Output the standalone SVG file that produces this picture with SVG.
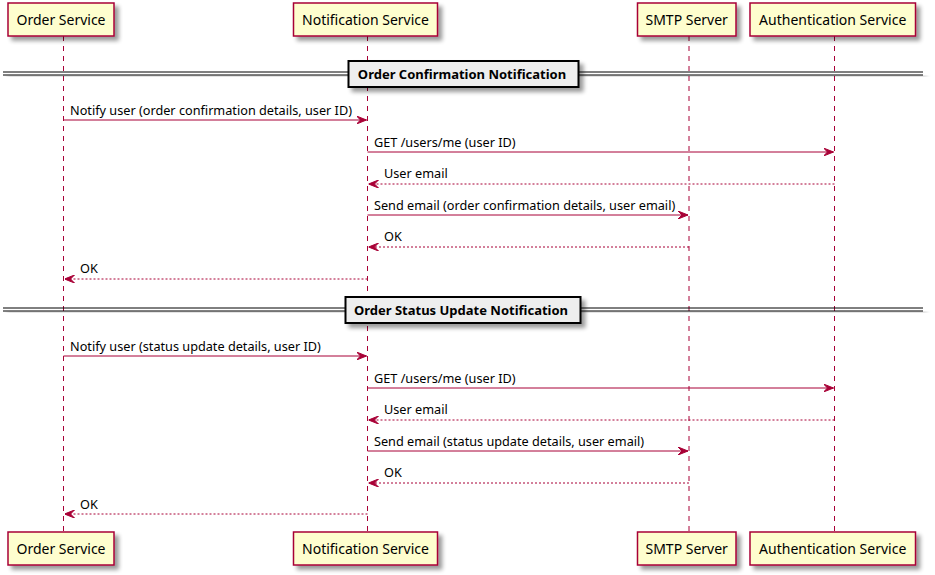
<svg xmlns="http://www.w3.org/2000/svg" width="935" height="575" viewBox="0 0 935 575">
<defs>
<filter id="sh" x="-10%" y="-20%" width="130%" height="160%">
<feGaussianBlur in="SourceAlpha" stdDeviation="2"/>
<feOffset dx="4" dy="4" result="b"/>
<feComponentTransfer><feFuncA type="linear" slope="0.4"/></feComponentTransfer>
<feMerge><feMergeNode/><feMergeNode in="SourceGraphic"/></feMerge>
</filter>
<marker id="ah" markerWidth="10" markerHeight="8" refX="10" refY="4" orient="auto" markerUnits="userSpaceOnUse">
<polygon points="0,0 10,4 0,8 4,4" fill="#A80036" stroke="#A80036" stroke-width="1"/>
</marker>
</defs>
<style>
.box{fill:#FEFECE;stroke:#A80036;stroke-width:1.5}
.pt{font-family:"Noto Sans","Liberation Sans",sans-serif;font-size:14px;fill:#000;text-anchor:middle}
.life{stroke:#A80036;stroke-width:1;stroke-dasharray:5,5}
.msg{stroke:#A80036;stroke-width:1;fill:none;marker-end:url(#ah)}
.ret{stroke-dasharray:2,2}
.mt{font-family:"Noto Sans","Liberation Sans",sans-serif;font-size:12.7px;fill:#000}
.dl{stroke:#000;stroke-width:1}
.dbox{fill:#EEEEEE;stroke:#000;stroke-width:2}
.dt{font-family:"Noto Sans","Liberation Sans",sans-serif;font-size:13px;font-weight:bold;fill:#000;text-anchor:middle}
</style>
<g id="lifelines">
<line class="life" x1="63.5" y1="36" x2="63.5" y2="531"/>
<line class="life" x1="367.5" y1="36" x2="367.5" y2="531"/>
<line class="life" x1="689" y1="36" x2="689" y2="531"/>
<line class="life" x1="834.5" y1="36" x2="834.5" y2="531"/>
</g>
<g id="p-order">
<rect class="box" x="8" y="3" width="106" height="33" filter="url(#sh)"/>
<text class="pt" x="61" y="25">Order Service</text>
<rect class="box" x="8" y="532" width="106" height="33" filter="url(#sh)"/>
<text class="pt" x="61" y="554">Order Service</text>
</g>
<g id="p-notif">
<rect class="box" x="293.5" y="3" width="144" height="33" filter="url(#sh)"/>
<text class="pt" x="365.5" y="25">Notification Service</text>
<rect class="box" x="293.5" y="532" width="144" height="33" filter="url(#sh)"/>
<text class="pt" x="365.5" y="554">Notification Service</text>
</g>
<g id="p-smtp">
<rect class="box" x="637.5" y="3" width="98.5" height="33" filter="url(#sh)"/>
<text class="pt" x="686.7" y="25">SMTP Server</text>
<rect class="box" x="637.5" y="532" width="98.5" height="33" filter="url(#sh)"/>
<text class="pt" x="686.7" y="554">SMTP Server</text>
</g>
<g id="p-auth">
<rect class="box" x="750" y="3" width="165.5" height="33" filter="url(#sh)"/>
<text class="pt" x="832.7" y="25">Authentication Service</text>
<rect class="box" x="750" y="532" width="165.5" height="33" filter="url(#sh)"/>
<text class="pt" x="832.7" y="554">Authentication Service</text>
</g>
<g id="div1">
<g filter="url(#sh)">
<line class="dl" x1="3" y1="72" x2="923" y2="72"/>
<line class="dl" x1="3" y1="75" x2="923" y2="75"/>
</g>
<rect class="dbox" x="348.5" y="61" width="230" height="26" filter="url(#sh)"/>
<text class="dt" x="462" y="79">Order Confirmation Notification</text>
</g>
<g id="div2">
<g filter="url(#sh)">
<line class="dl" x1="3" y1="308" x2="923" y2="308"/>
<line class="dl" x1="3" y1="311" x2="923" y2="311"/>
</g>
<rect class="dbox" x="345.5" y="297" width="235" height="26" filter="url(#sh)"/>
<text class="dt" x="461" y="315">Order Status Update Notification</text>
</g>
<g id="connectors">
<line class="msg" x1="63.5" y1="120" x2="366.5" y2="120"/>
<text class="mt" x="70" y="115">Notify user (order confirmation details, user ID)</text>
<line class="msg" x1="367.5" y1="152" x2="833.5" y2="152"/>
<text class="mt" x="374" y="147">GET /users/me (user ID)</text>
<line class="msg ret" x1="834.5" y1="184" x2="368.5" y2="184"/>
<text class="mt" x="384" y="178">User email</text>
<line class="msg" x1="367.5" y1="215" x2="688" y2="215"/>
<text class="mt" x="374" y="210">Send email (order confirmation details, user email)</text>
<line class="msg ret" x1="689" y1="247" x2="368.5" y2="247"/>
<text class="mt" x="384" y="241">OK</text>
<line class="msg ret" x1="367.5" y1="279" x2="64.5" y2="279"/>
<text class="mt" x="80" y="273">OK</text>

<line class="msg" x1="63.5" y1="356" x2="366.5" y2="356"/>
<text class="mt" x="70" y="351">Notify user (status update details, user ID)</text>
<line class="msg" x1="367.5" y1="388" x2="833.5" y2="388"/>
<text class="mt" x="374" y="383">GET /users/me (user ID)</text>
<line class="msg ret" x1="834.5" y1="420" x2="368.5" y2="420"/>
<text class="mt" x="384" y="414">User email</text>
<line class="msg" x1="367.5" y1="451" x2="688" y2="451"/>
<text class="mt" x="374" y="446">Send email (status update details, user email)</text>
<line class="msg ret" x1="689" y1="483" x2="368.5" y2="483"/>
<text class="mt" x="384" y="477">OK</text>
<line class="msg ret" x1="367.5" y1="514" x2="64.5" y2="514"/>
<text class="mt" x="80" y="509">OK</text>
</g>
</svg>
